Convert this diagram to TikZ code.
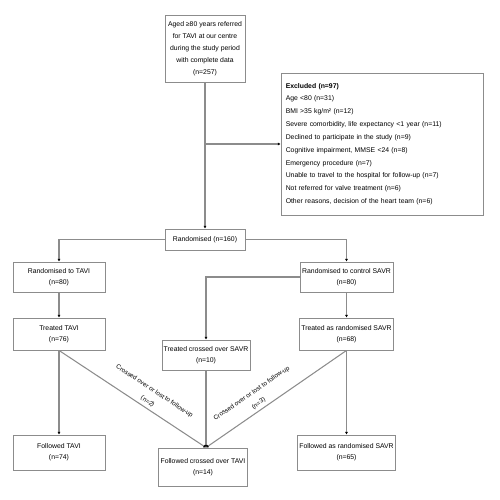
\documentclass[tikz,border=0pt]{standalone}
\usepackage{fontspec}
\setmainfont{Liberation Sans}
\usetikzlibrary{positioning, arrows.meta, calc}

\begin{document}
\begin{tikzpicture}[
        box/.style={rectangle, draw=black!45, line width=0.5pt, align=center, font=\fontsize{3.9}{6.2}\selectfont, inner sep=1pt},
        arrow/.style={draw=black!45, line width=0.6pt, -{Latex[length=1.5pt, width=1.7pt, color=black]}},
        slab/.style={midway, above, sloped, font=\fontsize{3.6}{7}\selectfont, align=center, inner sep=1.5pt}]

        \useasboundingbox (0,0) rectangle (10,-10);

        % === SCREENING ===
        \node (screen) [box, minimum width=1.6cm, minimum height=1.34cm, font=\fontsize{3.9}{6.8}\selectfont] at (4.10,-0.97)
            {Aged ≥80 years referred\\for TAVI at our centre\\during the study period\\with complete data\\(n=257)};
        \node (excl) [box, minimum width=4.04cm, minimum height=2.84cm, text width=3.85cm, align=left, font=\fontsize{3.9}{7.3}\selectfont] at (7.64,-2.88)
            {\textbf{Excluded (n=97)}\\
             Age <80 (n=31)\\
             BMI >35 kg/m² (n=12)\\
             Severe comorbidity, life expectancy <1 year (n=11)\\
             Declined to participate in the study (n=9)\\
             Cognitive impairment, MMSE <24 (n=8)\\
             Emergency procedure (n=7)\\
             Unable to travel to the hospital for follow-up (n=7)\\
             Not referred for valve treatment (n=6)\\
             Other reasons, decision of the heart team (n=6)};
        \node (rand) [box, minimum width=1.6cm, minimum height=0.42cm] at (4.10,-4.79) {Randomised (n=160)};

        \draw [arrow] (screen) -- (rand);
        \draw [arrow] (screen.south |- excl.west) -- (excl.west);

        % === LEFT COLUMN ===
        \node (lalloc) [box, minimum width=1.84cm, minimum height=0.6cm] at (1.18,-5.54) {Randomised to TAVI\\(n=80)};
        \node (ltreat) [box, minimum width=1.84cm, minimum height=0.64cm] at (1.18,-6.68) {Treated TAVI\\(n=76)};
        \node (lfollow) [box, minimum width=1.84cm, minimum height=0.7cm] at (1.18,-9.05) {Followed TAVI\\(n=74)};

        % === RIGHT COLUMN ===
        \node (ralloc) [box, minimum width=1.86cm, minimum height=0.6cm] at (6.93,-5.54) {Randomised to control SAVR\\(n=80)};
        \node (rtreat) [box, minimum width=1.86cm, minimum height=0.64cm] at (6.93,-6.68) {Treated as randomised SAVR\\(n=68)};
        \node (rfollow) [box, minimum width=1.86cm, minimum height=0.7cm] at (6.93,-9.05) {Followed as randomised SAVR\\(n=65)};

        % === MIDDLE COLUMN ===
        \node (mtreat) [box, minimum width=1.74cm, minimum height=0.6cm] at (4.12,-7.10) {Treated crossed over SAVR\\(n=10)};
        \node (mfollow) [box, minimum width=1.6cm, minimum height=0.76cm] at (4.06,-9.34) {Followed crossed over TAVI\\(n=14)};
        \coordinate (meet) at (mtreat.south |- mfollow.north);

        \draw [arrow] (rand.west) -| (lalloc.north);
        \draw [arrow] (rand.east) -| (ralloc.north);
        \draw [arrow] (lalloc) -- (ltreat);
        \draw [arrow] (ralloc) -- (rtreat);
        \draw [arrow] (ralloc.west) -| (mtreat.north);
        \draw [arrow] (ltreat) -- (lfollow);
        \draw [arrow] (rtreat) -- (rfollow);
        \draw [arrow] (mtreat.south) -- (meet);
        \draw [arrow] (ltreat.south) -- node[slab, pos=0.58]{Crossed over or lost to follow-up\\(n=2)} (meet);
        \draw [arrow] (rtreat.south) -- node[slab, pos=0.6]{Crossed over or lost to follow-up\\(n=3)} (meet);

    \end{tikzpicture}
\end{document}
